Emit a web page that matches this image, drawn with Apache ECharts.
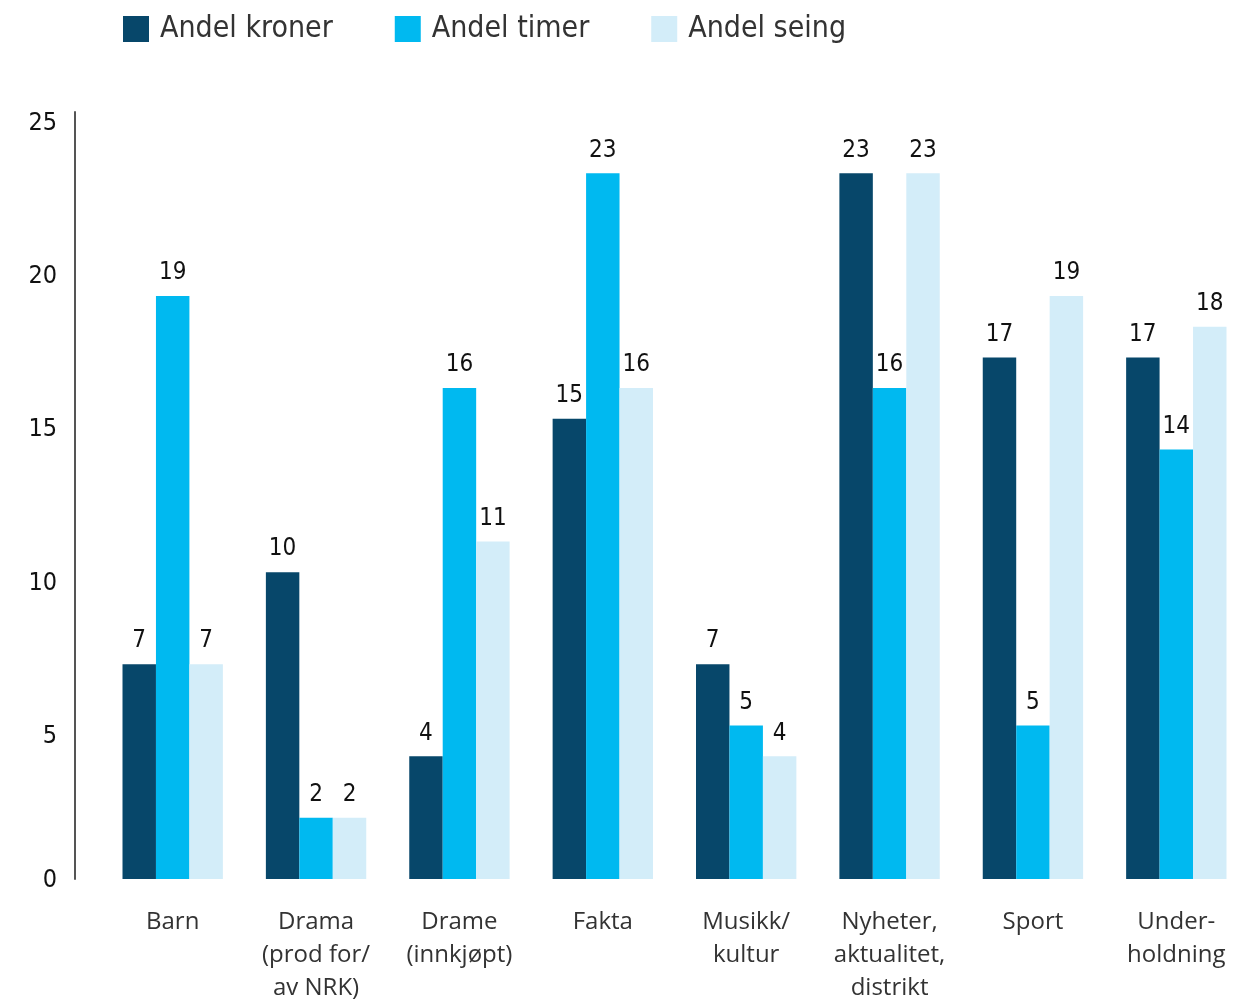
<!DOCTYPE html>
<html><head><meta charset="utf-8">
<script src="https://cdn.jsdelivr.net/npm/echarts@6/dist/echarts.min.js"></script>
<style>html,body{margin:0;padding:0;background:#fff}#c{width:1259px;height:1000px}</style>
</head><body><div id="c"></div>
<script>
const categories = ['Barn', 'Drama\n(prod for/\nav NRK)', 'Drame\n(innkjøpt)', 'Fakta', 'Musikk/\nkultur', 'Nyheter,\naktualitet,\ndistrikt', 'Sport', 'Under-\nholdning'];
const seriesNames = ['Andel kroner', 'Andel timer', 'Andel seing'];
const andelKroner = [7, 10, 4, 15, 7, 23, 17, 17];
const andelTimer = [19, 2, 16, 23, 5, 16, 5, 14];
const andelSeing = [7, 2, 11, 16, 4, 23, 19, 18];
const colors = ['#07476a', '#00b9f0', '#d3edf9'];
const yTicks = [0, 5, 10, 15, 20, 25];

const chart = echarts.init(document.getElementById('c'), null, {renderer: 'canvas'});
const labelFont = 'Liberation Sans Narrow, DejaVu Sans Condensed, sans-serif';
function mk(name, data, color) {
  return {
    name, type: 'bar', data, barGap: '0%', barCategoryGap: '30%',
    itemStyle: {color},
    label: {show: true, position: 'top', distance: 11, color: '#111', fontSize: 24, fontFamily: labelFont}
  };
}
chart.setOption({
  animation: false,
  color: colors,
  legend: {
    left: 123, top: 14, padding: 0, itemWidth: 26, itemHeight: 26, itemGap: 62,
    icon: 'rect',
    textStyle: {fontSize: 30, color: '#333', fontFamily: labelFont, padding: [0, 0, 0, 6]},
    data: seriesNames
  },
  grid: {left: 101, right: 11, top: 112, bottom: 121, outerBoundsMode: 'none', containLabel: false},
  xAxis: {
    type: 'category', data: categories,
    axisLine: {show: false}, axisTick: {show: false},
    axisLabel: {fontSize: 24, lineHeight: 33, color: '#333', fontFamily: 'Open Sans, sans-serif', margin: 27, verticalAlign: 'top', interval: 0}
  },
  yAxis: {
    type: 'value', min: yTicks[0], max: yTicks[yTicks.length - 1], interval: 5,
    offset: 26,
    axisLine: {show: true, lineStyle: {color: '#555', width: 2}},
    axisTick: {show: false},
    splitLine: {show: false},
    axisLabel: {
      margin: 18, color: '#111', fontFamily: labelFont, fontSize: 25,
      formatter: v => v === 0 ? '{z|0}' : '{n|' + v + '}',
      rich: {
        z: {fontSize: 25, fontFamily: labelFont, color: '#111', padding: [2, 0, 0, 0]},
        n: {fontSize: 25, fontFamily: labelFont, color: '#111', padding: [22, 0, 0, 0]}
      }
    }
  },
  series: [mk(seriesNames[0], andelKroner, colors[0]), mk(seriesNames[1], andelTimer, colors[1]), mk(seriesNames[2], andelSeing, colors[2])]
});
</script></body></html>
